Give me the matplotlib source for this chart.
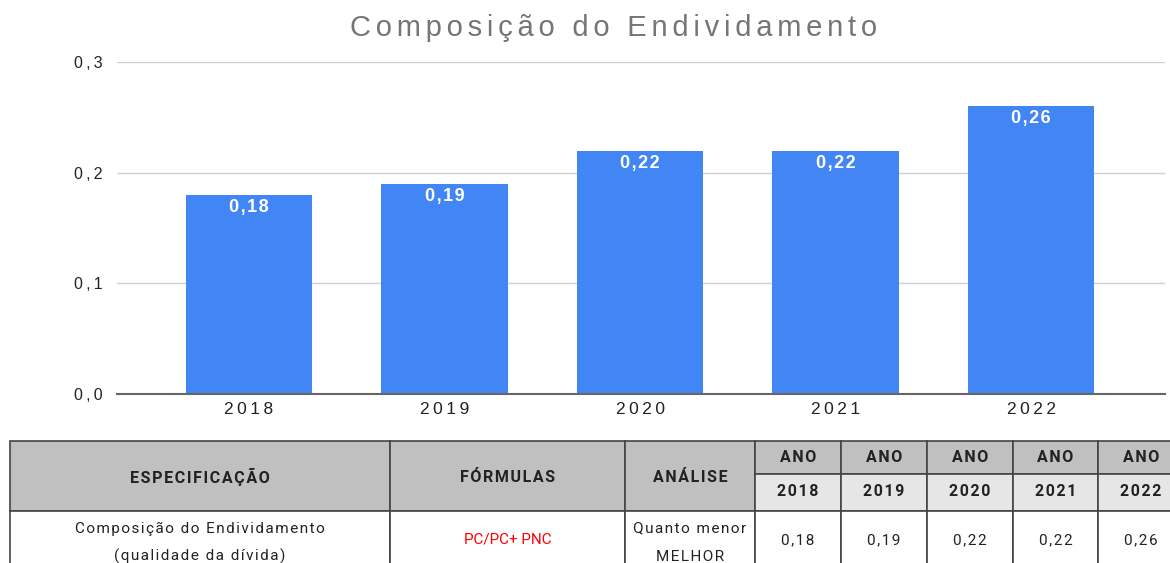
import matplotlib
matplotlib.use("Agg")
from matplotlib import pyplot as plt
from matplotlib.patches import Rectangle

# chart data
years = ["2018", "2019", "2020", "2021", "2022"]
values = [0.18, 0.19, 0.22, 0.22, 0.26]
y_ticks = [0.0, 0.1, 0.2, 0.3]
y_tick_labels = ["0,0", "0,1", "0,2", "0,3"]

# table text
spec_text = ["Composição do Endividamento", "(qualidade da dívida)"]
formula_text = "PC/PC+ PNC"
analysis_text = ["Quanto menor", "MELHOR"]

W, H = 1170, 563
BLUE = "#4285f4"
CHART_FONT = ["Liberation Sans", "DejaVu Sans"]


def fmt(v):
    return f"{v:.2f}".replace(".", ",")


def spaced(s, sep="\u200a"):
    return sep.join(s)


def main():
    fig = plt.figure(figsize=(W / 100, H / 100), dpi=100)
    fig.patch.set_facecolor("white")

    # ---- bar chart ----
    ax = fig.add_axes([117 / W, 1 - 394 / H, (1165 - 117) / W, (394 - 62) / H])
    x = list(range(len(years)))
    ax.bar(x, values, width=0.645, color=BLUE, zorder=3)
    for i, v in zip(x, values):
        ax.annotate(spaced(fmt(v)), xy=(i, v), xytext=(0, -3), textcoords="offset points",
                    ha="center", va="top", color="white", fontsize=13, fontweight="bold",
                    family=CHART_FONT, zorder=4)
    ax.set_xlim(-0.675, 4.685)
    ax.set_ylim(0, 0.3)
    ax.set_yticks(y_ticks)
    ax.set_yticklabels([spaced(t, "\u2009") for t in y_tick_labels])
    ax.set_xticks(x)
    ax.set_xticklabels([spaced(t, "\u2009") for t in years])
    for lab in ax.get_xticklabels():
        lab.set_family(CHART_FONT)
        lab.set_fontsize(12.5)
        lab.set_color("#222222")
    for lab in ax.get_yticklabels():
        lab.set_family(CHART_FONT)
        lab.set_fontsize(11.5)
        lab.set_color("#222222")
    ax.tick_params(length=0)
    ax.tick_params(axis="y", pad=10.5)
    ax.tick_params(axis="x", pad=6)
    ax.grid(axis="y", color="#d0d0d0", linewidth=1, zorder=0)
    for s in ["top", "right", "left"]:
        ax.spines[s].set_visible(False)
    ax.spines["bottom"].set_color("#666666")
    ax.spines["bottom"].set_linewidth(1.5)
    ax.spines["bottom"].set_zorder(5)
    fig.text(614 / W, 1 - 28 / H, spaced("Composição do Endividamento", "\u200a\u200a"),
             ha="center", va="center", fontsize=21, color="#757575", family=CHART_FONT)

    # ---- table below ----
    tab = fig.add_axes([0, 0, 1, 1])
    tab.set_xlim(0, W)
    tab.set_ylim(H, 0)
    tab.axis("off")
    tab.patch.set_alpha(0)

    top, mid, hdr_bot, bot = 441, 474, 511, 600
    col_x = [10, 390, 625, 755, 841, 927, 1013, 1098, 1184]
    dark = "#c0c0c0"
    light = "#e6e6e6"
    edge = "#444444"

    def cell(x0, x1, y0, y1, fc):
        tab.add_patch(Rectangle((x0, y0), x1 - x0, y1 - y0, facecolor=fc,
                                edgecolor=edge, linewidth=1.2))

    cell(col_x[0], col_x[1], top, hdr_bot, dark)
    cell(col_x[1], col_x[2], top, hdr_bot, dark)
    cell(col_x[2], col_x[3], top, hdr_bot, dark)
    for j in range(len(years)):
        cell(col_x[3 + j], col_x[4 + j], top, mid, dark)
        cell(col_x[3 + j], col_x[4 + j], mid, hdr_bot, light)
    for j in range(len(col_x) - 1):
        cell(col_x[j], col_x[j + 1], hdr_bot, bot, "white")

    fam = ["Roboto", "DejaVu Sans"]
    hk = dict(ha="center", va="center", fontsize=11.5, fontweight="bold",
              color="#222222", family=fam)
    tab.text((col_x[0] + col_x[1]) / 2, 477, spaced("ESPECIFICAÇÃO"), **hk)
    tab.text((col_x[1] + col_x[2]) / 2, 477, spaced("FÓRMULAS"), **hk)
    tab.text((col_x[2] + col_x[3]) / 2, 477, spaced("ANÁLISE"), **hk)
    for j, yr in enumerate(years):
        cx = (col_x[3 + j] + col_x[4 + j]) / 2
        tab.text(cx, 457.5, spaced("ANO"), **hk)
        tab.text(cx, 492, spaced(yr), **hk)

    bk = dict(ha="center", va="center", fontsize=11, color="#222222", family=fam)
    tab.text((col_x[0] + col_x[1]) / 2, 529, spaced(spec_text[0]), **bk)
    tab.text((col_x[0] + col_x[1]) / 2, 556, spaced(spec_text[1]), **bk)
    tab.text((col_x[1] + col_x[2]) / 2, 540, formula_text, ha="center", va="center",
             fontsize=11, color="#ff0000", family=fam)
    tab.text((col_x[2] + col_x[3]) / 2, 528, spaced(analysis_text[0]), **bk)
    tab.text((col_x[2] + col_x[3]) / 2, 557, spaced(analysis_text[1]), **bk)
    for j, v in enumerate(values):
        cx = (col_x[3 + j] + col_x[4 + j]) / 2
        tab.text(cx, 540, spaced(fmt(v)), **bk)

    fig.savefig("out.png", dpi=100)


if __name__ == "__main__":
    main()
